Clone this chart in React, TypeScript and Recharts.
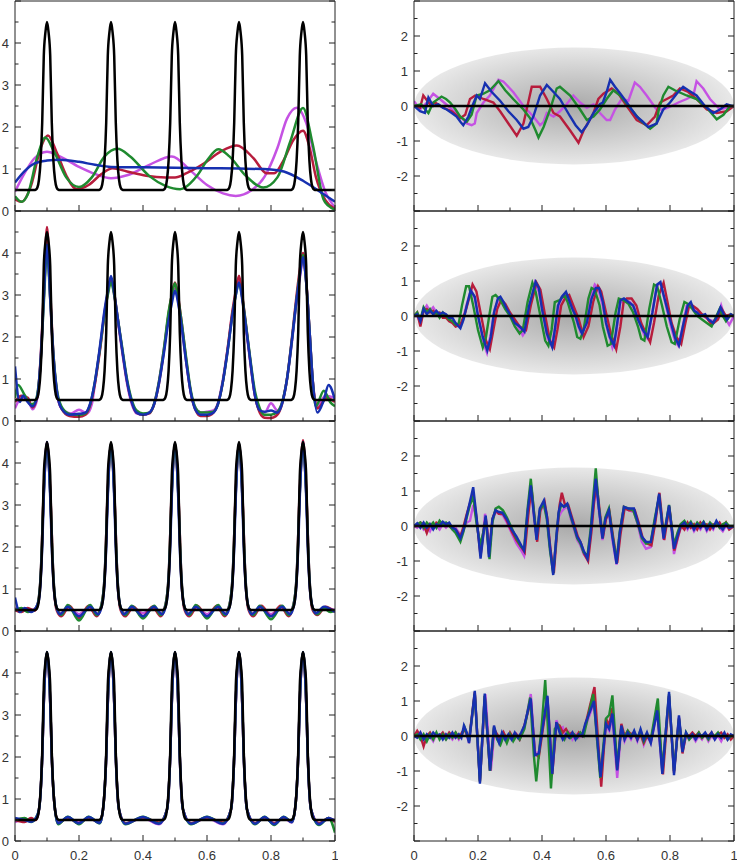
import React from 'react';
import { LineChart, Line, XAxis, YAxis, ReferenceArea } from 'recharts';

type Pt = [number, number];

// axis ticks
const X_TICKS = [0, 0.1, 0.2, 0.3, 0.4, 0.5, 0.6, 0.7, 0.8, 0.9, 1];
const LEFT_Y_TICKS = [0, 0.5, 1, 1.5, 2, 2.5, 3, 3.5, 4, 4.5, 5];
const RIGHT_Y_TICKS = [-3, -2.5, -2, -1.5, -1, -0.5, 0, 0.5, 1, 1.5, 2, 2.5, 3];
const LEFT_Y_LABELS = [0, 1, 2, 3, 4];
const RIGHT_Y_LABELS = [-2, -1, 0, 1, 2];

// true signal (black), same in every left panel
const blackPeaks: Pt[] = [
  [0, 0.5], [0.06, 0.5], [0.065, 0.51], [0.07, 0.56], [0.075, 0.75], [0.08, 1.2], [0.085, 2.1], [0.09, 3.7], [0.095, 4.25], [0.1, 4.5],
  [0.105, 4.25], [0.11, 3.7], [0.115, 2.1], [0.12, 1.2], [0.125, 0.75], [0.13, 0.56], [0.135, 0.51], [0.14, 0.5],
  [0.26, 0.5], [0.265, 0.51], [0.27, 0.56], [0.275, 0.75], [0.28, 1.2], [0.285, 2.1], [0.29, 3.7], [0.295, 4.25], [0.3, 4.5],
  [0.305, 4.25], [0.31, 3.7], [0.315, 2.1], [0.32, 1.2], [0.325, 0.75], [0.33, 0.56], [0.335, 0.51], [0.34, 0.5],
  [0.46, 0.5], [0.465, 0.51], [0.47, 0.56], [0.475, 0.75], [0.48, 1.2], [0.485, 2.1], [0.49, 3.7], [0.495, 4.25], [0.5, 4.5],
  [0.505, 4.25], [0.51, 3.7], [0.515, 2.1], [0.52, 1.2], [0.525, 0.75], [0.53, 0.56], [0.535, 0.51], [0.54, 0.5],
  [0.66, 0.5], [0.665, 0.51], [0.67, 0.56], [0.675, 0.75], [0.68, 1.2], [0.685, 2.1], [0.69, 3.7], [0.695, 4.25], [0.7, 4.5],
  [0.705, 4.25], [0.71, 3.7], [0.715, 2.1], [0.72, 1.2], [0.725, 0.75], [0.73, 0.56], [0.735, 0.51], [0.74, 0.5],
  [0.86, 0.5], [0.865, 0.51], [0.87, 0.56], [0.875, 0.75], [0.88, 1.2], [0.885, 2.1], [0.89, 3.7], [0.895, 4.25], [0.9, 4.5],
  [0.905, 4.25], [0.91, 3.7], [0.915, 2.1], [0.92, 1.2], [0.925, 0.75], [0.93, 0.56], [0.935, 0.51], [0.94, 0.5], [1, 0.5],
];
const zeroLine: Pt[] = [[0, 0], [1, 0]];

// left panel 1
const l1Red: Pt[] = [
  [0, 0.28], [0.02, 0.22], [0.05, 0.6], [0.08, 1.5], [0.103, 1.8], [0.13, 1.4], [0.16, 0.85], [0.193, 0.52], [0.23, 0.62],
  [0.27, 0.88], [0.305, 1.02], [0.35, 0.94], [0.41, 0.84], [0.47, 0.8], [0.5, 0.8], [0.536, 0.9], [0.59, 1.13], [0.64, 1.4],
  [0.693, 1.56], [0.745, 1.26], [0.786, 0.9], [0.81, 0.9], [0.84, 1.22], [0.87, 1.69], [0.9, 1.91], [0.92, 1.53], [0.94, 0.82],
  [0.97, 0.26], [1, 0.05],
];
const l1Green: Pt[] = [
  [0, 0.35], [0.02, 0.22], [0.04, 0.4], [0.07, 1.3], [0.095, 1.75], [0.12, 1.45], [0.16, 0.8], [0.2, 0.57], [0.24, 0.8],
  [0.28, 1.3], [0.32, 1.48], [0.36, 1.3], [0.42, 0.83], [0.47, 0.6], [0.516, 0.52], [0.57, 0.85], [0.6, 1.2], [0.635, 1.47],
  [0.67, 1.3], [0.72, 0.85], [0.776, 0.56], [0.82, 0.8], [0.86, 1.65], [0.9, 2.45], [0.93, 1.6], [0.964, 0.28], [0.98, 0.12],
  [1, 0.03],
];
const l1Magenta: Pt[] = [
  [0, 0.46], [0.03, 0.9], [0.06, 1.25], [0.1, 1.41], [0.14, 1.3], [0.2, 1.05], [0.25, 0.88], [0.3, 0.78], [0.35, 0.85],
  [0.42, 1.1], [0.49, 1.3], [0.55, 0.95], [0.6, 0.62], [0.65, 0.42], [0.69, 0.36], [0.74, 0.5], [0.78, 0.82], [0.82, 1.5],
  [0.85, 2.2], [0.88, 2.46], [0.91, 2.1], [0.94, 1.2], [0.97, 0.45], [1, 0.08],
];
const l1Blue: Pt[] = [
  [0, 0.68], [0.03, 0.95], [0.06, 1.13], [0.1, 1.2], [0.14, 1.22], [0.2, 1.17], [0.25, 1.1], [0.3, 1.05], [0.4, 1.04],
  [0.5, 1.03], [0.6, 1.02], [0.7, 1.01], [0.8, 0.99], [0.84, 0.94], [0.9, 0.72], [0.953, 0.46], [1, 0.22],
];

// left panel 2
const l2Red: Pt[] = [
  [0, 0.45], [0.02, 0.6], [0.04, 0.55], [0.055, 0.32], [0.07, 0.6], [0.08, 1.5], [0.09, 3.1], [0.1, 4.62], [0.11, 3.1],
  [0.12, 1.6], [0.13, 0.75], [0.145, 0.3], [0.17, 0.12], [0.2, 0.1], [0.22, 0.15], [0.235, 0.38], [0.25, 0.9], [0.265, 1.65],
  [0.28, 2.55], [0.29, 3.05], [0.3, 3.4], [0.31, 3.05], [0.32, 2.5], [0.335, 1.7], [0.35, 0.95], [0.365, 0.45], [0.38, 0.2],
  [0.4, 0.15], [0.42, 0.18], [0.435, 0.4], [0.45, 0.9], [0.465, 1.65], [0.48, 2.55], [0.49, 3.0], [0.5, 3.3], [0.51, 2.95],
  [0.52, 2.4], [0.535, 1.45], [0.55, 0.65], [0.565, 0.25], [0.58, 0.12], [0.6, 0.12], [0.62, 0.2], [0.635, 0.42], [0.65, 0.95],
  [0.665, 1.75], [0.68, 2.65], [0.69, 3.1], [0.7, 3.46], [0.71, 3.0], [0.72, 2.4], [0.735, 1.45], [0.75, 0.6], [0.765, 0.2],
  [0.78, 0.08], [0.8, 0.07], [0.82, 0.15], [0.835, 0.42], [0.85, 1.0], [0.865, 1.95], [0.88, 3.0], [0.89, 3.6], [0.9, 4.0],
  [0.91, 3.35], [0.92, 2.2], [0.93, 1.0], [0.945, 0.3], [0.975, 0.55], [1, 0.45],
];
const l2Green: Pt[] = [
  [0, 0.55], [0.01, 0.86], [0.03, 0.62], [0.05, 0.4], [0.06, 0.42], [0.07, 0.65], [0.08, 1.4], [0.09, 2.8], [0.1, 4.05],
  [0.11, 2.9], [0.12, 1.6], [0.13, 0.8], [0.145, 0.35], [0.17, 0.17], [0.2, 0.14], [0.22, 0.18], [0.235, 0.4], [0.25, 0.95],
  [0.265, 1.7], [0.28, 2.55], [0.29, 3.0], [0.3, 3.3], [0.31, 3.0], [0.32, 2.5], [0.335, 1.75], [0.35, 1.0], [0.365, 0.5],
  [0.38, 0.25], [0.4, 0.18], [0.42, 0.2], [0.435, 0.42], [0.45, 0.95], [0.465, 1.7], [0.48, 2.6], [0.49, 3.0], [0.5, 3.28],
  [0.51, 2.9], [0.52, 2.4], [0.535, 1.5], [0.55, 0.7], [0.565, 0.3], [0.58, 0.2], [0.6, 0.2], [0.62, 0.22], [0.635, 0.42],
  [0.65, 0.95], [0.665, 1.7], [0.68, 2.55], [0.69, 3.0], [0.7, 3.28], [0.71, 2.95], [0.72, 2.4], [0.735, 1.5], [0.75, 0.7],
  [0.765, 0.3], [0.78, 0.15], [0.8, 0.15], [0.82, 0.22], [0.835, 0.45], [0.85, 1.0], [0.865, 1.9], [0.88, 2.9], [0.89, 3.5],
  [0.9, 3.95], [0.91, 3.3], [0.92, 2.2], [0.93, 1.0], [0.94, 0.35], [0.965, 0.72], [0.985, 0.45], [1, 0.35],
];
const l2Magenta: Pt[] = [
  [0, 0.3], [0.02, 0.55], [0.04, 0.5], [0.055, 0.28], [0.07, 0.55], [0.08, 1.4], [0.09, 2.9], [0.1, 4.3], [0.11, 2.9],
  [0.12, 1.5], [0.13, 0.7], [0.145, 0.3], [0.175, 0.18], [0.2, 0.27], [0.225, 0.18], [0.24, 0.4], [0.25, 0.9], [0.265, 1.7],
  [0.28, 2.6], [0.29, 3.05], [0.3, 3.4], [0.31, 3.0], [0.32, 2.45], [0.335, 1.65], [0.35, 0.9], [0.365, 0.4], [0.38, 0.18],
  [0.4, 0.15], [0.42, 0.2], [0.435, 0.42], [0.45, 0.95], [0.465, 1.7], [0.48, 2.5], [0.49, 2.9], [0.5, 3.15], [0.51, 2.85],
  [0.52, 2.3], [0.535, 1.4], [0.55, 0.65], [0.565, 0.3], [0.58, 0.2], [0.6, 0.22], [0.62, 0.25], [0.635, 0.45], [0.65, 1.0],
  [0.665, 1.75], [0.68, 2.6], [0.69, 3.05], [0.7, 3.4], [0.71, 2.95], [0.72, 2.35], [0.735, 1.4], [0.75, 0.6], [0.765, 0.25],
  [0.78, 0.2], [0.8, 0.42], [0.82, 0.25], [0.835, 0.45], [0.85, 1.0], [0.865, 1.85], [0.88, 2.85], [0.89, 3.4], [0.9, 3.85],
  [0.91, 3.3], [0.92, 2.2], [0.93, 1.0], [0.945, 0.35], [0.97, 0.6], [1, 0.55],
];
const l2Blue: Pt[] = [
  [0, 1.3], [0.015, 0.45], [0.025, 0.6], [0.04, 0.45], [0.055, 0.35], [0.07, 0.6], [0.08, 1.45], [0.09, 2.95], [0.1, 4.2],
  [0.11, 2.95], [0.12, 1.55], [0.13, 0.75], [0.145, 0.3], [0.17, 0.15], [0.2, 0.17], [0.22, 0.2], [0.235, 0.42], [0.25, 0.95],
  [0.265, 1.75], [0.28, 2.65], [0.29, 3.1], [0.3, 3.45], [0.31, 3.05], [0.32, 2.5], [0.335, 1.7], [0.35, 0.95], [0.365, 0.45],
  [0.38, 0.2], [0.4, 0.15], [0.42, 0.2], [0.435, 0.4], [0.45, 0.9], [0.465, 1.6], [0.48, 2.4], [0.49, 2.8], [0.5, 3.1],
  [0.51, 2.8], [0.52, 2.3], [0.535, 1.4], [0.55, 0.65], [0.565, 0.25], [0.58, 0.15], [0.6, 0.15], [0.62, 0.2], [0.635, 0.42],
  [0.65, 0.95], [0.665, 1.7], [0.68, 2.55], [0.69, 3.0], [0.7, 3.3], [0.71, 2.9], [0.72, 2.35], [0.735, 1.45], [0.75, 0.6],
  [0.765, 0.25], [0.78, 0.22], [0.8, 0.25], [0.82, 0.2], [0.835, 0.42], [0.85, 1.0], [0.865, 1.9], [0.88, 2.9], [0.89, 3.45],
  [0.9, 3.9], [0.91, 3.3], [0.92, 2.2], [0.93, 1.0], [0.945, 0.2], [0.965, 0.5], [0.98, 0.86], [1, 0.5],
];

// left panel 3
const l3Red: Pt[] = [
  [0, 0.5], [0.02, 0.45], [0.04, 0.55], [0.06, 0.48], [0.07, 0.6], [0.08, 1.25], [0.09, 3.4], [0.1, 4.5], [0.11, 3.4],
  [0.12, 1.25], [0.13, 0.5], [0.145, 0.35], [0.17, 0.6], [0.2, 0.3], [0.23, 0.6], [0.255, 0.35], [0.27, 0.6], [0.28, 1.25],
  [0.29, 3.4], [0.3, 4.45], [0.31, 3.4], [0.32, 1.25], [0.33, 0.5], [0.345, 0.35], [0.37, 0.58], [0.4, 0.35], [0.43, 0.58],
  [0.455, 0.35], [0.47, 0.6], [0.48, 1.25], [0.49, 3.4], [0.5, 4.45], [0.51, 3.4], [0.52, 1.25], [0.53, 0.5], [0.545, 0.35],
  [0.57, 0.6], [0.6, 0.32], [0.63, 0.6], [0.655, 0.35], [0.67, 0.6], [0.68, 1.25], [0.69, 3.4], [0.7, 4.45], [0.71, 3.4],
  [0.72, 1.25], [0.73, 0.5], [0.745, 0.35], [0.77, 0.6], [0.8, 0.35], [0.83, 0.6], [0.855, 0.35], [0.87, 0.6], [0.88, 1.25],
  [0.89, 3.4], [0.9, 4.55], [0.91, 3.4], [0.92, 1.25], [0.93, 0.5], [0.945, 0.38], [0.97, 0.58], [1, 0.45],
];
const l3Green: Pt[] = [
  [0, 0.5], [0.02, 0.55], [0.04, 0.45], [0.06, 0.5], [0.07, 0.62], [0.08, 1.3], [0.09, 3.3], [0.1, 4.45], [0.11, 3.3],
  [0.12, 1.3], [0.13, 0.55], [0.145, 0.38], [0.165, 0.62], [0.2, 0.25], [0.235, 0.62], [0.255, 0.38], [0.27, 0.62], [0.28, 1.3],
  [0.29, 3.3], [0.3, 4.45], [0.31, 3.3], [0.32, 1.3], [0.33, 0.55], [0.345, 0.38], [0.365, 0.6], [0.4, 0.3], [0.435, 0.6],
  [0.455, 0.38], [0.47, 0.62], [0.48, 1.3], [0.49, 3.3], [0.5, 4.45], [0.51, 3.3], [0.52, 1.3], [0.53, 0.55], [0.545, 0.38],
  [0.565, 0.62], [0.6, 0.3], [0.635, 0.62], [0.655, 0.38], [0.67, 0.62], [0.68, 1.3], [0.69, 3.3], [0.7, 4.45], [0.71, 3.3],
  [0.72, 1.3], [0.73, 0.55], [0.745, 0.38], [0.765, 0.6], [0.8, 0.28], [0.835, 0.6], [0.855, 0.38], [0.87, 0.62], [0.88, 1.3],
  [0.89, 3.3], [0.9, 4.45], [0.91, 3.3], [0.92, 1.3], [0.93, 0.55], [0.945, 0.4], [0.965, 0.55], [0.985, 0.45], [1, 0.5],
];
const l3Magenta: Pt[] = [
  [0, 0.55], [0.02, 0.5], [0.04, 0.48], [0.06, 0.52], [0.07, 0.62], [0.08, 1.3], [0.09, 3.3], [0.1, 4.4], [0.11, 3.3],
  [0.12, 1.3], [0.13, 0.55], [0.145, 0.42], [0.17, 0.55], [0.2, 0.4], [0.23, 0.55], [0.255, 0.4], [0.27, 0.62], [0.28, 1.3],
  [0.29, 3.3], [0.3, 4.4], [0.31, 3.3], [0.32, 1.3], [0.33, 0.55], [0.345, 0.42], [0.37, 0.55], [0.4, 0.42], [0.43, 0.55],
  [0.455, 0.42], [0.47, 0.62], [0.48, 1.3], [0.49, 3.3], [0.5, 4.4], [0.51, 3.3], [0.52, 1.3], [0.53, 0.55], [0.545, 0.42],
  [0.57, 0.55], [0.6, 0.4], [0.63, 0.55], [0.655, 0.42], [0.67, 0.62], [0.68, 1.3], [0.69, 3.3], [0.7, 4.4], [0.71, 3.3],
  [0.72, 1.3], [0.73, 0.55], [0.745, 0.42], [0.77, 0.55], [0.8, 0.4], [0.83, 0.55], [0.855, 0.42], [0.87, 0.62], [0.88, 1.3],
  [0.89, 3.3], [0.9, 4.4], [0.91, 3.3], [0.92, 1.3], [0.93, 0.55], [0.945, 0.42], [0.97, 0.55], [1, 0.5],
];
const l3Blue: Pt[] = [
  [0, 0.8], [0.015, 0.45], [0.03, 0.55], [0.05, 0.45], [0.065, 0.55], [0.075, 0.75], [0.085, 2.0], [0.09, 3.2], [0.1, 4.5],
  [0.11, 3.2], [0.115, 2.0], [0.125, 0.75], [0.14, 0.4], [0.165, 0.58], [0.2, 0.35], [0.235, 0.58], [0.26, 0.4], [0.275, 0.75],
  [0.285, 2.0], [0.29, 3.2], [0.3, 4.45], [0.31, 3.2], [0.315, 2.0], [0.325, 0.75], [0.34, 0.4], [0.365, 0.58], [0.4, 0.35],
  [0.435, 0.58], [0.46, 0.4], [0.475, 0.75], [0.485, 2.0], [0.49, 3.2], [0.5, 4.45], [0.51, 3.2], [0.515, 2.0], [0.525, 0.75],
  [0.54, 0.4], [0.565, 0.58], [0.6, 0.35], [0.635, 0.58], [0.66, 0.4], [0.675, 0.75], [0.685, 2.0], [0.69, 3.2], [0.7, 4.45],
  [0.71, 3.2], [0.715, 2.0], [0.725, 0.75], [0.74, 0.4], [0.765, 0.58], [0.8, 0.35], [0.835, 0.58], [0.86, 0.4], [0.875, 0.75],
  [0.885, 2.0], [0.89, 3.2], [0.9, 4.5], [0.91, 3.2], [0.915, 2.0], [0.925, 0.75], [0.94, 0.42], [0.965, 0.58], [1, 0.45],
];

// left panel 4
const l4Red: Pt[] = [
  [0, 0.5], [0.03, 0.45], [0.05, 0.55], [0.065, 0.5], [0.075, 0.75], [0.085, 2.0], [0.09, 3.3], [0.1, 4.5], [0.11, 3.3],
  [0.115, 2.0], [0.125, 0.75], [0.135, 0.42], [0.165, 0.56], [0.2, 0.42], [0.23, 0.56], [0.265, 0.44], [0.275, 0.75],
  [0.285, 2.0], [0.29, 3.3], [0.3, 4.5], [0.31, 3.3], [0.315, 2.0], [0.325, 0.75], [0.345, 0.42], [0.4, 0.56], [0.45, 0.44],
  [0.475, 0.75], [0.485, 2.0], [0.49, 3.3], [0.5, 4.5], [0.51, 3.3], [0.515, 2.0], [0.525, 0.75], [0.55, 0.42], [0.6, 0.56],
  [0.65, 0.44], [0.675, 0.75], [0.685, 2.0], [0.69, 3.3], [0.7, 4.5], [0.71, 3.3], [0.715, 2.0], [0.725, 0.75], [0.75, 0.42],
  [0.78, 0.56], [0.81, 0.42], [0.84, 0.56], [0.865, 0.46], [0.875, 0.75], [0.885, 2.0], [0.89, 3.3], [0.9, 4.5], [0.91, 3.3],
  [0.915, 2.0], [0.925, 0.75], [0.95, 0.42], [0.98, 0.55], [1, 0.45],
];
const l4Green: Pt[] = [
  [0, 0.5], [0.03, 0.55], [0.05, 0.45], [0.065, 0.55], [0.075, 0.75], [0.085, 2.0], [0.09, 3.3], [0.1, 4.5], [0.11, 3.3],
  [0.115, 2.0], [0.125, 0.75], [0.135, 0.4], [0.165, 0.58], [0.2, 0.4], [0.23, 0.58], [0.265, 0.42], [0.275, 0.75],
  [0.285, 2.0], [0.29, 3.3], [0.3, 4.5], [0.31, 3.3], [0.315, 2.0], [0.325, 0.75], [0.345, 0.4], [0.4, 0.58], [0.45, 0.42],
  [0.475, 0.75], [0.485, 2.0], [0.49, 3.3], [0.5, 4.5], [0.51, 3.3], [0.515, 2.0], [0.525, 0.75], [0.55, 0.4], [0.6, 0.58],
  [0.65, 0.42], [0.675, 0.75], [0.685, 2.0], [0.69, 3.3], [0.7, 4.5], [0.71, 3.3], [0.715, 2.0], [0.725, 0.75], [0.75, 0.4],
  [0.78, 0.58], [0.81, 0.38], [0.84, 0.58], [0.865, 0.45], [0.875, 0.75], [0.885, 2.0], [0.89, 3.3], [0.9, 4.5], [0.91, 3.3],
  [0.915, 2.0], [0.925, 0.75], [0.95, 0.38], [0.98, 0.55], [1, 0.2],
];
const l4Magenta: Pt[] = [
  [0, 0.45], [0.03, 0.52], [0.05, 0.48], [0.065, 0.52], [0.075, 0.75], [0.085, 2.0], [0.09, 3.3], [0.1, 4.45], [0.11, 3.3],
  [0.115, 2.0], [0.125, 0.75], [0.135, 0.43], [0.165, 0.55], [0.2, 0.44], [0.23, 0.55], [0.265, 0.43], [0.275, 0.75],
  [0.285, 2.0], [0.29, 3.3], [0.3, 4.45], [0.31, 3.3], [0.315, 2.0], [0.325, 0.75], [0.345, 0.42], [0.4, 0.55], [0.45, 0.4],
  [0.475, 0.75], [0.485, 2.0], [0.49, 3.3], [0.5, 4.45], [0.51, 3.3], [0.515, 2.0], [0.525, 0.75], [0.55, 0.42], [0.6, 0.55],
  [0.65, 0.4], [0.675, 0.75], [0.685, 2.0], [0.69, 3.3], [0.7, 4.45], [0.71, 3.3], [0.715, 2.0], [0.725, 0.75], [0.75, 0.42],
  [0.78, 0.55], [0.81, 0.42], [0.84, 0.55], [0.865, 0.44], [0.875, 0.75], [0.885, 2.0], [0.89, 3.3], [0.9, 4.45], [0.91, 3.3],
  [0.915, 2.0], [0.925, 0.75], [0.95, 0.42], [0.98, 0.52], [1, 0.5],
];
const l4Blue: Pt[] = [
  [0, 0.55], [0.03, 0.5], [0.05, 0.46], [0.065, 0.54], [0.075, 0.75], [0.085, 2.0], [0.09, 3.3], [0.1, 4.5], [0.11, 3.3],
  [0.115, 2.0], [0.125, 0.75], [0.135, 0.42], [0.165, 0.57], [0.2, 0.42], [0.23, 0.57], [0.265, 0.43], [0.275, 0.75],
  [0.285, 2.0], [0.29, 3.3], [0.3, 4.5], [0.31, 3.3], [0.315, 2.0], [0.325, 0.75], [0.345, 0.41], [0.4, 0.57], [0.45, 0.41],
  [0.475, 0.75], [0.485, 2.0], [0.49, 3.3], [0.5, 4.5], [0.51, 3.3], [0.515, 2.0], [0.525, 0.75], [0.55, 0.41], [0.6, 0.57],
  [0.65, 0.41], [0.675, 0.75], [0.685, 2.0], [0.69, 3.3], [0.7, 4.5], [0.71, 3.3], [0.715, 2.0], [0.725, 0.75], [0.75, 0.41],
  [0.78, 0.57], [0.81, 0.4], [0.84, 0.57], [0.865, 0.45], [0.875, 0.75], [0.885, 2.0], [0.89, 3.3], [0.9, 4.5], [0.91, 3.3],
  [0.915, 2.0], [0.925, 0.75], [0.95, 0.4], [0.98, 0.55], [1, 0.48],
];

// right panel 1
const r1Red: Pt[] = [
  [0, 0], [0.019, -0.05], [0.029, 0.3], [0.05, 0.05], [0.066, 0.1], [0.092, -0.05], [0.118, -0.15], [0.144, -0.35], [0.16, -0.25],
  [0.175, 0.2], [0.191, 0.3], [0.217, 0.2], [0.248, 0.1], [0.269, -0.15], [0.295, -0.5], [0.321, -0.85], [0.342, -0.5],
  [0.357, 0.1], [0.368, 0.55], [0.394, 0.55], [0.415, 0.2], [0.436, -0.2], [0.456, -0.3], [0.488, -0.7], [0.514, -1.05],
  [0.53, -0.7], [0.561, -0.2], [0.576, 0.2], [0.592, 0.35], [0.618, 0.5], [0.639, 0.35], [0.665, 0.0], [0.696, -0.4],
  [0.727, -0.55], [0.753, -0.3], [0.769, 0.1], [0.79, 0.2], [0.81, 0.3], [0.831, 0.5], [0.857, 0.4], [0.883, 0.2],
  [0.915, -0.1], [0.946, -0.2], [0.977, -0.15], [1, 0],
];
const r1Green: Pt[] = [
  [0, 0], [0.022, 0.05], [0.035, -0.1], [0.045, -0.2], [0.06, 0.1], [0.086, 0.27], [0.1, 0.2], [0.113, 0.1], [0.13, -0.1],
  [0.144, -0.3], [0.165, -0.45], [0.18, -0.25], [0.196, 0.3], [0.217, 0.35], [0.237, 0.45], [0.264, 0.71], [0.285, 0.45],
  [0.31, 0.2], [0.342, -0.1], [0.363, -0.35], [0.38, -0.7], [0.389, -0.9], [0.405, -0.6], [0.425, -0.1], [0.446, 0.5],
  [0.456, 0.55], [0.488, 0.3], [0.519, -0.1], [0.54, -0.4], [0.561, -0.3], [0.581, -0.1], [0.602, 0.2], [0.623, 0.45],
  [0.644, 0.3], [0.675, -0.05], [0.706, -0.4], [0.738, -0.65], [0.758, -0.5], [0.765, -0.1], [0.779, 0.3], [0.795, 0.55],
  [0.815, 0.45], [0.852, 0.3], [0.883, 0.2], [0.915, -0.05], [0.946, -0.38], [0.967, -0.25], [0.988, 0.0], [1, 0],
];
const r1Magenta: Pt[] = [
  [0, 0.14], [0.019, -0.1], [0.04, 0.1], [0.06, 0.35], [0.081, 0.2], [0.113, -0.05], [0.144, -0.3], [0.165, -0.5], [0.18, -0.55],
  [0.19, -0.5], [0.196, -0.2], [0.217, 0.1], [0.237, 0.3], [0.264, 0.75], [0.279, 0.7], [0.31, 0.4], [0.342, 0.0],
  [0.373, -0.3], [0.394, -0.55], [0.405, -0.45], [0.415, -0.2], [0.436, -0.3], [0.456, -0.15], [0.477, 0.05], [0.498, 0.3],
  [0.519, 0.1], [0.54, -0.05], [0.561, 0.05], [0.581, -0.2], [0.602, -0.4], [0.613, -0.4], [0.628, -0.1], [0.649, 0.2],
  [0.67, 0.15], [0.69, 0.67], [0.706, 0.55], [0.727, 0.3], [0.758, -0.1], [0.779, -0.1], [0.805, 0.0], [0.826, 0.1],
  [0.852, 0.2], [0.873, 0.3], [0.883, 0.71], [0.904, 0.5], [0.925, 0.2], [0.956, -0.1], [0.977, -0.05], [1, 0],
];
const r1Blue: Pt[] = [
  [0, 0], [0.019, -0.15], [0.034, -0.2], [0.045, 0.24], [0.06, 0.0], [0.076, 0.05], [0.09, -0.05], [0.102, -0.1], [0.118, -0.2],
  [0.133, -0.3], [0.145, -0.45], [0.154, -0.55], [0.17, -0.3], [0.18, -0.05], [0.196, 0.3], [0.206, 0.2], [0.222, 0.65],
  [0.243, 0.4], [0.269, 0.15], [0.295, -0.15], [0.321, -0.4], [0.342, -0.65], [0.357, -0.6], [0.373, -0.3], [0.394, 0.3],
  [0.415, 0.6], [0.436, 0.4], [0.456, 0.2], [0.472, -0.05], [0.488, -0.3], [0.505, -0.55], [0.524, -0.75], [0.54, -0.55],
  [0.561, -0.2], [0.581, 0.05], [0.59, 0.1], [0.602, 0.4], [0.613, 0.75], [0.628, 0.55], [0.645, 0.35], [0.665, 0.1],
  [0.68, -0.1], [0.696, -0.3], [0.715, -0.45], [0.732, -0.6], [0.758, -0.5], [0.779, -0.1], [0.8, 0.1], [0.821, 0.35],
  [0.841, 0.55], [0.857, 0.45], [0.883, 0.3], [0.909, 0.0], [0.935, -0.2], [0.956, -0.1], [0.977, 0.05], [0.993, 0.0], [1, 0],
];

// right panel 2
const r2Red: Pt[] = [
  [0, 0], [0.01, 0.1], [0.02, -0.3], [0.03, 0.15], [0.04, 0.2], [0.05, 0.1], [0.06, 0.15], [0.07, 0.05], [0.08, 0.1],
  [0.09, -0.05], [0.1, -0.05], [0.11, -0.15], [0.12, -0.2], [0.13, -0.3], [0.145, -0.25], [0.16, 0.1], [0.175, 0.6],
  [0.183, 0.9], [0.195, 0.7], [0.21, 0.0], [0.225, -0.7], [0.237, -0.95], [0.248, -0.4], [0.26, 0.2], [0.272, 0.45],
  [0.285, 0.35], [0.3, 0.1], [0.315, -0.1], [0.33, -0.3], [0.35, -0.4], [0.365, 0.3], [0.383, 0.95], [0.395, 0.75],
  [0.41, 0.0], [0.425, -0.7], [0.438, -0.9], [0.448, -0.4], [0.46, 0.3], [0.475, 0.55], [0.485, 0.6], [0.5, 0.25],
  [0.515, -0.1], [0.53, -0.6], [0.545, -0.3], [0.56, 0.4], [0.575, 0.85], [0.585, 0.7], [0.6, 0.1], [0.615, -0.5],
  [0.632, -0.95], [0.645, -0.3], [0.655, 0.4], [0.665, 0.5], [0.68, 0.5], [0.695, 0.3], [0.71, -0.2], [0.725, -0.5],
  [0.738, -0.75], [0.75, -0.2], [0.765, 0.6], [0.78, 0.95], [0.79, 0.5], [0.805, -0.2], [0.82, -0.6], [0.835, -0.8],
  [0.848, -0.2], [0.86, 0.3], [0.87, 0.3], [0.885, 0.2], [0.9, 0.05], [0.915, -0.05], [0.93, -0.25], [0.95, -0.1],
  [0.962, 0.2], [0.975, 0.0], [0.99, 0.05], [1, 0],
];
const r2Green: Pt[] = [
  [0, 0], [0.01, 0.1], [0.02, -0.1], [0.03, 0.25], [0.04, 0.1], [0.05, 0.2], [0.06, 0.05], [0.07, 0.1], [0.08, -0.05],
  [0.09, 0.1], [0.1, 0.0], [0.11, -0.1], [0.12, -0.15], [0.13, -0.25], [0.14, -0.2], [0.15, 0.3], [0.163, 0.85],
  [0.172, 0.85], [0.185, 0.3], [0.2, -0.4], [0.215, -0.9], [0.225, -0.6], [0.235, 0.0], [0.245, 0.55], [0.255, 0.6],
  [0.27, 0.45], [0.285, 0.2], [0.3, 0.0], [0.315, -0.3], [0.33, -0.5], [0.34, -0.4], [0.355, 0.4], [0.37, 0.95],
  [0.38, 0.7], [0.395, 0.0], [0.41, -0.7], [0.42, -0.85], [0.43, -0.4], [0.44, 0.4], [0.455, 0.45], [0.47, 0.6],
  [0.48, 0.4], [0.49, 0.1], [0.5, -0.2], [0.51, -0.6], [0.52, -0.65], [0.53, -0.4], [0.545, 0.5], [0.555, 0.8],
  [0.565, 0.75], [0.58, 0.3], [0.59, -0.3], [0.605, -0.85], [0.615, -0.8], [0.63, 0.1], [0.64, 0.5], [0.655, 0.45],
  [0.67, 0.35], [0.685, 0.1], [0.7, -0.3], [0.71, -0.65], [0.72, -0.7], [0.735, 0.2], [0.75, 0.9], [0.76, 0.85],
  [0.775, 0.3], [0.79, -0.3], [0.805, -0.75], [0.815, -0.8], [0.83, -0.1], [0.845, 0.4], [0.855, 0.35], [0.87, 0.2],
  [0.885, 0.0], [0.9, -0.1], [0.915, -0.2], [0.93, -0.3], [0.945, 0.0], [0.955, 0.2], [0.965, 0.0], [0.975, -0.15],
  [0.99, 0.05], [1, 0],
];
const r2Magenta: Pt[] = [
  [0, 0], [0.01, 0.0], [0.02, -0.2], [0.03, 0.15], [0.04, 0.3], [0.05, 0.15], [0.06, 0.25], [0.07, 0.1], [0.08, 0.0],
  [0.09, 0.1], [0.1, -0.05], [0.11, -0.05], [0.12, -0.15], [0.135, -0.25], [0.15, -0.2], [0.165, 0.35], [0.178, 0.75],
  [0.19, 0.5], [0.205, -0.2], [0.218, -0.8], [0.228, -1.05], [0.24, -0.5], [0.252, 0.2], [0.265, 0.5], [0.28, 0.4],
  [0.295, 0.15], [0.31, -0.1], [0.325, -0.3], [0.34, -0.55], [0.35, -0.4], [0.365, 0.4], [0.378, 0.95], [0.39, 0.7],
  [0.405, 0.0], [0.418, -0.65], [0.43, -0.85], [0.442, -0.3], [0.455, 0.4], [0.47, 0.6], [0.485, 0.4], [0.5, 0.15],
  [0.51, -0.2], [0.52, -0.45], [0.535, -0.3], [0.55, 0.5], [0.565, 0.9], [0.575, 0.8], [0.59, 0.3], [0.605, -0.4],
  [0.62, -0.9], [0.632, -0.5], [0.645, 0.4], [0.66, 0.45], [0.675, 0.4], [0.69, 0.2], [0.705, -0.2], [0.72, -0.55],
  [0.73, -0.65], [0.745, 0.1], [0.758, 0.85], [0.77, 0.95], [0.782, 0.5], [0.8, -0.2], [0.815, -0.7], [0.826, -0.85],
  [0.84, -0.3], [0.852, 0.3], [0.862, 0.35], [0.875, 0.2], [0.89, 0.05], [0.905, 0.0], [0.92, -0.1], [0.935, -0.15],
  [0.95, -0.05], [0.96, 0.3], [0.972, -0.05], [0.985, -0.25], [1, 0],
];
const r2Blue: Pt[] = [
  [0, 0], [0.01, 0.05], [0.02, -0.15], [0.03, 0.2], [0.04, 0.05], [0.05, 0.15], [0.06, 0.05], [0.07, 0.15], [0.08, 0.05],
  [0.09, 0.1], [0.1, 0.05], [0.11, -0.05], [0.12, -0.05], [0.13, -0.2], [0.145, -0.35], [0.155, -0.1], [0.165, 0.3],
  [0.177, 0.73], [0.19, 0.55], [0.2, 0.0], [0.215, -0.6], [0.229, -0.98], [0.24, -0.6], [0.25, 0.1], [0.262, 0.5],
  [0.27, 0.55], [0.28, 0.4], [0.29, 0.2], [0.3, 0.05], [0.315, -0.2], [0.33, -0.3], [0.345, -0.45], [0.36, 0.3],
  [0.38, 0.97], [0.39, 0.8], [0.4, 0.2], [0.415, -0.5], [0.432, -0.89], [0.44, -0.4], [0.45, 0.3], [0.462, 0.55],
  [0.475, 0.69], [0.485, 0.45], [0.495, 0.2], [0.505, 0.0], [0.515, -0.3], [0.525, -0.5], [0.54, -0.2], [0.555, 0.5],
  [0.568, 0.8], [0.578, 0.8], [0.59, 0.4], [0.6, -0.2], [0.612, -0.6], [0.625, -0.84], [0.635, -0.2], [0.645, 0.45],
  [0.656, 0.5], [0.67, 0.4], [0.685, 0.3], [0.7, -0.1], [0.715, -0.4], [0.73, -0.6], [0.745, 0.1], [0.76, 0.9],
  [0.77, 0.97], [0.78, 0.6], [0.8, -0.1], [0.815, -0.6], [0.828, -0.84], [0.84, -0.3], [0.855, 0.3], [0.865, 0.4],
  [0.875, 0.15], [0.885, 0.1], [0.895, 0.0], [0.91, 0.05], [0.92, -0.1], [0.935, -0.2], [0.945, -0.05], [0.958, 0.25],
  [0.968, 0.05], [0.978, -0.1], [0.99, 0.05], [1, 0],
];

// right panel 3
const r3Red: Pt[] = [
  [0, 0], [0.01, 0.0], [0.02, 0.1], [0.03, 0.05], [0.04, -0.2], [0.05, 0.05], [0.06, -0.05], [0.07, 0.1], [0.08, 0.05],
  [0.09, 0.1], [0.1, 0.0], [0.11, 0.05], [0.12, -0.05], [0.13, -0.1], [0.145, -0.3], [0.155, 0.0], [0.165, 0.35],
  [0.175, 0.65], [0.185, 0.9], [0.195, 0.25], [0.208, -0.85], [0.216, -0.25], [0.224, 0.25], [0.229, -0.15], [0.235, -0.8],
  [0.245, 0.2], [0.255, 0.45], [0.265, 0.35], [0.278, 0.35], [0.29, 0.15], [0.305, -0.15], [0.32, -0.4], [0.335, -0.6],
  [0.346, -0.75], [0.357, 0.3], [0.367, 1.1], [0.377, 0.2], [0.385, -0.45], [0.395, 0.45], [0.408, 0.7], [0.417, 0.2],
  [0.427, -0.7], [0.437, -1.35], [0.447, -0.2], [0.455, 0.6], [0.462, 0.95], [0.472, 0.6], [0.482, 0.6], [0.492, 0.3],
  [0.502, 0.0], [0.512, -0.3], [0.522, -0.5], [0.532, -0.8], [0.544, -1.0], [0.554, -0.2], [0.562, 0.6], [0.57, 1.25],
  [0.58, 0.45], [0.59, -0.35], [0.6, 0.2], [0.611, 0.4], [0.622, -0.3], [0.635, -1.05], [0.645, -0.25], [0.658, 0.5],
  [0.672, 0.45], [0.69, 0.45], [0.702, 0.1], [0.715, -0.35], [0.728, -0.5], [0.742, -0.55], [0.754, 0.1], [0.767, 0.95],
  [0.782, -0.4], [0.798, 0.55], [0.8135, -0.7], [0.825, -0.3], [0.835, 0.0], [0.845, -0.1], [0.855, 0.1], [0.865, -0.05],
  [0.875, 0.05], [0.885, -0.1], [0.895, 0.1], [0.905, 0.0], [0.915, 0.05], [0.925, -0.1], [0.935, 0.05], [0.945, 0.0],
  [0.955, 0.1], [0.965, -0.05], [0.975, 0.1], [0.985, -0.1], [1, 0],
];
const r3Green: Pt[] = [
  [0, 0], [0.01, 0.05], [0.02, 0.1], [0.03, -0.05], [0.04, 0.1], [0.05, 0.0], [0.06, 0.1], [0.07, -0.05], [0.08, 0.15],
  [0.09, 0.05], [0.1, 0.1], [0.11, 0.0], [0.12, -0.1], [0.13, -0.2], [0.145, -0.45], [0.155, -0.15], [0.165, 0.25],
  [0.175, 0.6], [0.185, 0.85], [0.195, 0.1], [0.207, -0.55], [0.216, -0.2], [0.224, 0.2], [0.229, -0.3], [0.236, -0.95],
  [0.245, 0.1], [0.255, 0.5], [0.265, 0.55], [0.278, 0.45], [0.29, 0.25], [0.305, -0.05], [0.32, -0.35], [0.335, -0.6],
  [0.344, -0.65], [0.355, 0.5], [0.365, 1.35], [0.375, 0.4], [0.383, -0.3], [0.393, 0.45], [0.405, 0.65], [0.415, 0.2],
  [0.425, -0.7], [0.435, -1.35], [0.445, -0.3], [0.452, 0.35], [0.46, 0.6], [0.47, 0.55], [0.48, 0.6], [0.49, 0.25],
  [0.5, -0.05], [0.51, -0.35], [0.52, -0.5], [0.53, -0.75], [0.542, -0.85], [0.552, -0.1], [0.56, 0.8], [0.568, 1.65],
  [0.578, 0.5], [0.589, -0.3], [0.598, 0.25], [0.609, 0.5], [0.62, -0.25], [0.633, -1.0], [0.643, -0.15], [0.656, 0.55],
  [0.67, 0.5], [0.685, 0.45], [0.7, 0.05], [0.712, -0.35], [0.725, -0.5], [0.74, -0.45], [0.752, 0.2], [0.766, 0.85],
  [0.78, -0.3], [0.797, 0.6], [0.8125, -0.55], [0.823, -0.2], [0.833, 0.05], [0.845, 0.15], [0.855, 0.0], [0.865, 0.12],
  [0.875, -0.05], [0.885, 0.1], [0.895, 0.0], [0.905, 0.12], [0.915, -0.05], [0.925, 0.1], [0.935, 0.0], [0.945, 0.1],
  [0.955, -0.05], [0.965, 0.05], [0.975, 0.1], [0.985, 0.0], [1, 0],
];
const r3Magenta: Pt[] = [
  [0, 0], [0.01, -0.05], [0.02, 0.05], [0.03, -0.1], [0.04, 0.0], [0.05, -0.15], [0.06, 0.05], [0.07, 0.0], [0.08, -0.1],
  [0.09, 0.05], [0.1, -0.05], [0.11, 0.05], [0.12, -0.1], [0.13, -0.05], [0.145, -0.25], [0.155, -0.1], [0.165, 0.1],
  [0.175, 0.15], [0.185, 0.6], [0.195, 0.2], [0.208, -0.75], [0.216, -0.2], [0.222, 0.35], [0.229, -0.1], [0.234, -0.8],
  [0.245, 0.15], [0.255, 0.4], [0.265, 0.35], [0.278, 0.3], [0.29, 0.1], [0.305, -0.2], [0.32, -0.5], [0.335, -0.7],
  [0.344, -0.85], [0.355, 0.35], [0.365, 1.2], [0.375, 0.25], [0.383, -0.35], [0.393, 0.4], [0.406, 0.6], [0.415, 0.25],
  [0.425, -0.6], [0.435, -1.3], [0.445, -0.3], [0.452, 0.25], [0.46, 0.4], [0.47, 0.5], [0.48, 0.55], [0.49, 0.2],
  [0.5, -0.1], [0.51, -0.4], [0.52, -0.55], [0.53, -0.8], [0.542, -0.95], [0.552, -0.3], [0.56, 0.5], [0.568, 1.2],
  [0.578, 0.4], [0.589, -0.4], [0.598, 0.15], [0.609, 0.4], [0.62, -0.4], [0.633, -1.1], [0.643, -0.3], [0.656, 0.55],
  [0.67, 0.45], [0.6875, 0.4], [0.7, 0.0], [0.712, -0.45], [0.725, -0.65], [0.74, -0.6], [0.752, 0.05], [0.766, 0.85],
  [0.78, -0.4], [0.797, 0.55], [0.8125, -0.8], [0.823, -0.4], [0.833, -0.05], [0.845, 0.1], [0.855, -0.1], [0.865, 0.05],
  [0.875, -0.15], [0.885, 0.0], [0.895, -0.1], [0.905, 0.05], [0.915, -0.15], [0.925, 0.0], [0.935, -0.1], [0.945, 0.1],
  [0.955, -0.05], [0.965, -0.15], [0.975, 0.0], [0.985, -0.1], [1, 0],
];
const r3Blue: Pt[] = [
  [0, 0], [0.01, 0.08], [0.02, -0.05], [0.03, 0.1], [0.04, -0.05], [0.05, 0.05], [0.06, -0.1], [0.07, 0.05], [0.08, 0.0],
  [0.09, 0.12], [0.1, 0.05], [0.11, 0.1], [0.12, -0.05], [0.13, -0.1], [0.145, -0.35], [0.155, -0.1], [0.165, 0.3],
  [0.175, 0.7], [0.185, 1.11], [0.195, 0.3], [0.208, -0.93], [0.216, -0.3], [0.224, 0.3], [0.229, -0.2], [0.234, -0.89],
  [0.245, 0.2], [0.255, 0.45], [0.265, 0.4], [0.276, 0.38], [0.29, 0.2], [0.305, -0.1], [0.32, -0.3], [0.335, -0.55],
  [0.344, -0.7], [0.355, 0.4], [0.365, 1.16], [0.375, 0.3], [0.383, -0.4], [0.393, 0.5], [0.406, 0.73], [0.415, 0.3],
  [0.425, -0.6], [0.435, -1.4], [0.445, -0.3], [0.452, 0.4], [0.458, 0.64], [0.468, 0.55], [0.479, 0.64], [0.49, 0.3],
  [0.5, 0.0], [0.51, -0.3], [0.52, -0.45], [0.53, -0.7], [0.542, -0.93], [0.552, -0.2], [0.56, 0.6], [0.568, 1.35],
  [0.578, 0.5], [0.589, -0.36], [0.598, 0.2], [0.609, 0.45], [0.62, -0.3], [0.633, -1.08], [0.643, -0.2], [0.656, 0.54],
  [0.67, 0.5], [0.6875, 0.5], [0.7, 0.1], [0.712, -0.3], [0.725, -0.45], [0.74, -0.46], [0.752, 0.1], [0.766, 0.92],
  [0.78, -0.36], [0.797, 0.59], [0.8125, -0.65], [0.823, -0.3], [0.833, 0.0], [0.845, 0.1], [0.855, -0.05], [0.865, 0.08],
  [0.875, -0.1], [0.885, 0.05], [0.895, -0.05], [0.905, 0.1], [0.915, -0.1], [0.925, 0.05], [0.935, -0.05], [0.945, 0.15],
  [0.955, 0.0], [0.965, -0.1], [0.975, 0.05], [0.985, -0.05], [1, 0],
];

// right panel 4
const r4Red: Pt[] = [
  [0, 0], [0.01, 0.15], [0.02, 0.0], [0.03, -0.3], [0.04, 0.0], [0.05, 0.1], [0.06, -0.05], [0.07, 0.05], [0.08, 0.0],
  [0.09, 0.1], [0.1, -0.05], [0.11, 0.1], [0.12, 0.0], [0.13, 0.1], [0.14, -0.05], [0.15, 0.1], [0.158, 0.2], [0.172, -0.1],
  [0.19, 1.25], [0.206, -1.3], [0.221, 1.15], [0.2375, -1.0], [0.25, 0.2], [0.26, 0.05], [0.27, -0.1], [0.28, 0.1],
  [0.29, -0.1], [0.3, 0.1], [0.31, -0.05], [0.32, 0.05], [0.33, -0.1], [0.345, 0.3], [0.365, 1.0], [0.378, -0.5],
  [0.39, -0.6], [0.417, 1.1], [0.432, -1.1], [0.445, 0.35], [0.455, 0.3], [0.465, 0.1], [0.475, 0.2], [0.485, 0.05],
  [0.495, 0.1], [0.505, -0.05], [0.515, 0.1], [0.525, 0.0], [0.535, 0.3], [0.564, 1.4], [0.585, -1.45], [0.6, 0.5],
  [0.61, 0.3], [0.62, 0.8], [0.635, -0.95], [0.648, 0.35], [0.658, 0.0], [0.668, 0.15], [0.678, 0.05], [0.688, 0.1],
  [0.698, -0.1], [0.708, 0.05], [0.718, -0.2], [0.728, 0.0], [0.74, -0.15], [0.76, 0.8], [0.778, -1.1], [0.797, 1.15],
  [0.8125, -1.05], [0.828, 0.5], [0.839, -0.5], [0.85, 0.05], [0.86, 0.0], [0.87, 0.1], [0.88, 0.0], [0.89, 0.1],
  [0.9, -0.05], [0.91, 0.05], [0.92, 0.0], [0.93, 0.1], [0.94, -0.05], [0.95, 0.05], [0.96, 0.1], [0.97, -0.05],
  [0.98, 0.05], [0.99, -0.1], [1, 0],
];
const r4Green: Pt[] = [
  [0, 0], [0.01, 0.05], [0.02, -0.1], [0.03, 0.05], [0.04, -0.15], [0.05, 0.05], [0.06, -0.1], [0.07, 0.1], [0.08, -0.1],
  [0.09, 0.05], [0.1, -0.1], [0.11, 0.05], [0.12, -0.05], [0.13, 0.1], [0.14, -0.05], [0.15, 0.05], [0.158, 0.25],
  [0.172, -0.15], [0.19, 1.2], [0.206, -1.3], [0.221, 1.15], [0.2375, -1.0], [0.25, 0.25], [0.26, -0.1], [0.27, -0.25],
  [0.28, 0.0], [0.29, -0.2], [0.3, 0.05], [0.31, -0.15], [0.32, 0.0], [0.33, -0.1], [0.345, 0.2], [0.363, 1.1],
  [0.375, -0.6], [0.382, -1.3], [0.4, 0.4], [0.41, 1.6], [0.418, 0.3], [0.428, -1.5], [0.44, 0.2], [0.45, 0.3],
  [0.46, 0.05], [0.47, -0.1], [0.48, 0.1], [0.49, -0.05], [0.5, 0.05], [0.51, -0.05], [0.52, 0.1], [0.53, 0.0],
  [0.54, 0.4], [0.56, 1.2], [0.582, -1.2], [0.6, 0.5], [0.61, 0.6], [0.62, 1.16], [0.635, -0.85], [0.648, 0.25],
  [0.658, -0.05], [0.668, 0.15], [0.678, 0.0], [0.688, 0.1], [0.698, -0.05], [0.708, 0.15], [0.718, -0.15], [0.728, 0.05],
  [0.74, -0.1], [0.762, 1.07], [0.776, -1.0], [0.797, 1.2], [0.8125, -1.0], [0.828, 0.5], [0.839, -0.4], [0.85, 0.1],
  [0.86, -0.1], [0.87, 0.0], [0.88, -0.05], [0.89, 0.1], [0.9, -0.05], [0.91, 0.05], [0.92, -0.1], [0.93, 0.05],
  [0.94, 0.0], [0.95, 0.1], [0.96, -0.05], [0.97, 0.05], [0.98, -0.1], [0.99, 0.0], [1, 0],
];
const r4Magenta: Pt[] = [
  [0, 0], [0.01, -0.05], [0.02, 0.1], [0.03, -0.05], [0.04, -0.1], [0.05, 0.0], [0.06, -0.15], [0.07, 0.05], [0.08, -0.05],
  [0.09, 0.0], [0.1, -0.1], [0.11, 0.0], [0.12, -0.1], [0.13, 0.05], [0.14, -0.1], [0.15, 0.05], [0.158, 0.2],
  [0.172, -0.2], [0.19, 1.2], [0.206, -1.25], [0.223, 1.2], [0.24, -1.0], [0.252, 0.2], [0.26, -0.05], [0.27, -0.15],
  [0.28, 0.05], [0.29, -0.15], [0.3, 0.0], [0.31, -0.1], [0.32, 0.05], [0.33, -0.1], [0.345, 0.25], [0.365, 1.2],
  [0.378, -0.5], [0.39, -0.45], [0.417, 1.05], [0.432, -1.0], [0.445, 0.45], [0.455, 0.2], [0.465, 0.25], [0.475, -0.05],
  [0.485, 0.1], [0.495, -0.1], [0.505, 0.05], [0.515, -0.05], [0.525, 0.05], [0.535, 0.25], [0.5625, 0.95], [0.583, -1.2],
  [0.6, 0.3], [0.61, 0.15], [0.62, 0.55], [0.635, -1.2], [0.648, 0.25], [0.658, -0.15], [0.668, 0.05], [0.678, -0.1],
  [0.688, 0.1], [0.698, -0.15], [0.708, 0.1], [0.718, -0.25], [0.728, 0.0], [0.74, -0.2], [0.76, 0.7], [0.776, -1.05],
  [0.797, 1.15], [0.8125, -1.0], [0.828, 0.55], [0.839, -0.45], [0.85, 0.0], [0.86, -0.1], [0.87, 0.0], [0.88, -0.15],
  [0.89, 0.0], [0.9, -0.1], [0.91, 0.05], [0.92, -0.15], [0.93, 0.0], [0.94, -0.1], [0.95, 0.0], [0.96, -0.15],
  [0.97, 0.05], [0.98, -0.1], [0.99, 0.0], [1, 0],
];
const r4Blue: Pt[] = [
  [0, 0], [0.01, -0.05], [0.02, 0.1], [0.03, -0.1], [0.04, 0.05], [0.05, -0.05], [0.06, 0.1], [0.07, 0.0], [0.08, 0.05],
  [0.09, -0.1], [0.1, 0.05], [0.11, -0.05], [0.12, 0.1], [0.13, -0.05], [0.14, 0.05], [0.148, -0.05], [0.156, 0.3],
  [0.165, 0.1], [0.172, -0.2], [0.19, 1.29], [0.206, -1.36], [0.221, 1.21], [0.2375, -0.98], [0.25, 0.3], [0.258, 0.0],
  [0.266, -0.2], [0.275, 0.1], [0.285, -0.1], [0.295, 0.05], [0.305, -0.1], [0.315, 0.1], [0.325, -0.05], [0.335, 0.1],
  [0.345, 0.3], [0.365, 1.07], [0.378, -0.55], [0.39, -0.5], [0.417, 1.15], [0.432, -1.08], [0.445, 0.4], [0.455, 0.1],
  [0.465, -0.1], [0.475, 0.05], [0.485, -0.05], [0.495, 0.1], [0.505, -0.1], [0.515, 0.05], [0.525, 0.0], [0.535, 0.35],
  [0.5625, 1.0], [0.583, -1.17], [0.6, 0.35], [0.61, 0.2], [0.62, 0.64], [0.635, -0.98], [0.648, 0.3], [0.658, -0.1],
  [0.668, 0.1], [0.678, -0.05], [0.688, 0.15], [0.698, -0.1], [0.708, 0.2], [0.718, -0.1], [0.728, 0.1], [0.74, -0.2],
  [0.76, 0.73], [0.776, -1.08], [0.797, 1.26], [0.8125, -1.12], [0.828, 0.59], [0.839, -0.46], [0.85, 0.1], [0.86, -0.05],
  [0.87, 0.05], [0.88, -0.1], [0.89, 0.05], [0.9, 0.0], [0.91, 0.1], [0.92, -0.05], [0.93, 0.1], [0.94, -0.1],
  [0.95, 0.05], [0.96, -0.05], [0.97, 0.1], [0.98, -0.1], [0.99, 0.05], [1, 0],
];

const RED = '#b71c3c';
const MAGENTA = '#c552e3';
const GREEN = '#1f8a2f';
const BLUE = '#1630b0';
const BLACK = '#000000';
const AXIS = '#222222';
const FONT = '"Liberation Sans", Arial, sans-serif';

const PLOT_W = 320;
const ROW_H = 210;

const toRows = (pts: Pt[]) => pts.map(([x, y]) => ({ x, y }));

const fmtX = (v: number) => (v === 0 ? '0' : v === 1 ? '1' : v.toFixed(1));

const XTick = (props: any) => {
  const { x, y, payload, dir, showLabel } = props;
  const v = payload.value;
  const major = Math.round(v * 10) % 2 === 0;
  const len = major ? 6 : 3.5;
  return (
    <g>
      <line x1={x} x2={x} y1={y} y2={y + dir * len} stroke={AXIS} strokeWidth={1} />
      {showLabel && major && (
        <text x={x} y={y + 10} dy="0.71em" textAnchor="middle" fontFamily={FONT} fontSize={13} fill="#333">
          {fmtX(v)}
        </text>
      )}
    </g>
  );
};

const YTick = (props: any) => {
  const { x, y, payload, dir, labels } = props;
  const v = payload.value;
  const major = Number.isInteger(v);
  const len = major ? 6 : 3.5;
  return (
    <g>
      <line x1={x} x2={x + dir * len} y1={y} y2={y} stroke={AXIS} strokeWidth={1} />
      {labels && labels.includes(v) && (
        <text x={x - 6} y={y} dy="0.35em" textAnchor="end" fontFamily={FONT} fontSize={13} fill="#333">
          {v}
        </text>
      )}
    </g>
  );
};

const EllipseShape = (props: any) => {
  const { x, y, width, height, gid } = props;
  return (
    <g>
      <defs>
        <radialGradient id={gid} cx="50%" cy="50%" r="50%">
          <stop offset="0%" stopColor="#a9a9a9" />
          <stop offset="100%" stopColor="#e8e8e8" />
        </radialGradient>
      </defs>
      <ellipse cx={x + width / 2} cy={y + height / 2} rx={width / 2} ry={height / 2} fill={`url(#${gid})`} />
    </g>
  );
};

type Series = { pts: Pt[]; color: string; width: number };

function Panel({ col, row, series }: { col: 'left' | 'right'; row: number; series: Series[] }) {
  const isLeft = col === 'left';
  const yw = isLeft ? 15 : 30;
  const last = row === 3;
  const xh = last ? 24 : 1;
  const bottomPad = last ? 0 : 8;
  const width = yw + PLOT_W + 1 + 2;
  const height = 1 + ROW_H + xh + bottomPad;
  const left = (isLeft ? 15 : 414) - yw;
  const top = row * ROW_H;
  const yDomain = isLeft ? [0, 5] : [-3, 3];
  const yTicks = isLeft ? LEFT_Y_TICKS : RIGHT_Y_TICKS;
  const yLabels = isLeft ? LEFT_Y_LABELS : RIGHT_Y_LABELS;
  const curve = isLeft ? 'monotone' : 'linear';

  return (
    <div style={{ position: 'absolute', left, top }}>
      <LineChart width={width} height={height} margin={{ top: 0, right: 2, bottom: bottomPad, left: 0 }}>
        <XAxis
          xAxisId="x"
          dataKey="x"
          type="number"
          domain={[0, 1]}
          ticks={X_TICKS}
          interval={0}
          allowDataOverflow
          height={xh}
          tickSize={0}
          tickMargin={0}
          tickLine={false}
          stroke={AXIS}
          tick={(p: any) => <XTick {...p} dir={-1} showLabel={last} />}
        />
        <XAxis
          xAxisId="xt"
          orientation="top"
          type="number"
          domain={[0, 1]}
          ticks={X_TICKS}
          interval={0}
          allowDataOverflow
          height={1}
          tickSize={0}
          tickMargin={0}
          tickLine={false}
          stroke={AXIS}
          tick={(p: any) => <XTick {...p} dir={1} showLabel={false} />}
        />
        <YAxis
          yAxisId="y"
          type="number"
          domain={yDomain}
          ticks={yTicks}
          interval={0}
          allowDataOverflow
          width={yw}
          tickSize={0}
          tickMargin={0}
          tickLine={false}
          stroke={AXIS}
          tick={(p: any) => <YTick {...p} dir={1} labels={yLabels} />}
        />
        <YAxis
          yAxisId="yr"
          orientation="right"
          type="number"
          domain={yDomain}
          ticks={yTicks}
          interval={0}
          allowDataOverflow
          width={1}
          tickSize={0}
          tickMargin={0}
          tickLine={false}
          stroke={AXIS}
          tick={(p: any) => <YTick {...p} dir={-1} labels={null} />}
        />
        {!isLeft && (
          <ReferenceArea
            xAxisId="x"
            yAxisId="y"
            x1={0}
            x2={1}
            y1={-1.67}
            y2={1.67}
            shape={(p: any) => <EllipseShape {...p} gid={`ell${row}`} />}
          />
        )}
        {series.map((s, i) => (
          <Line
            key={i}
            xAxisId="x"
            yAxisId="y"
            data={toRows(s.pts)}
            dataKey="y"
            type={curve}
            stroke={s.color}
            strokeWidth={s.width}
            dot={false}
            activeDot={false}
            isAnimationActive={false}
          />
        ))}
      </LineChart>
    </div>
  );
}

const leftRows: Pt[][][] = [
  [l1Magenta, l1Red, l1Green, l1Blue],
  [l2Magenta, l2Red, l2Green, l2Blue],
  [l3Magenta, l3Red, l3Green, l3Blue],
  [l4Magenta, l4Red, l4Green, l4Blue],
];
const rightRows: Pt[][][] = [
  [r1Magenta, r1Red, r1Green, r1Blue],
  [r2Magenta, r2Red, r2Green, r2Blue],
  [r3Magenta, r3Red, r3Green, r3Blue],
  [r4Magenta, r4Red, r4Green, r4Blue],
];
const COLOR_ORDER = [MAGENTA, RED, GREEN, BLUE];

export default function App() {
  return (
    <div style={{ position: 'absolute', left: 0, top: 0, width: 737, height: 863, background: '#fff' }}>
      {leftRows.map((row, r) => (
        <Panel
          key={`l${r}`}
          col="left"
          row={r}
          series={[
            ...row.map((pts, i) => ({ pts, color: COLOR_ORDER[i], width: 2.5 })),
            { pts: blackPeaks, color: BLACK, width: 2.5 },
          ]}
        />
      ))}
      {rightRows.map((row, r) => (
        <Panel
          key={`r${r}`}
          col="right"
          row={r}
          series={[
            ...row.map((pts, i) => ({ pts, color: COLOR_ORDER[i], width: 2.4 })),
            { pts: zeroLine, color: BLACK, width: 2.5 },
          ]}
        />
      ))}
    </div>
  );
}
